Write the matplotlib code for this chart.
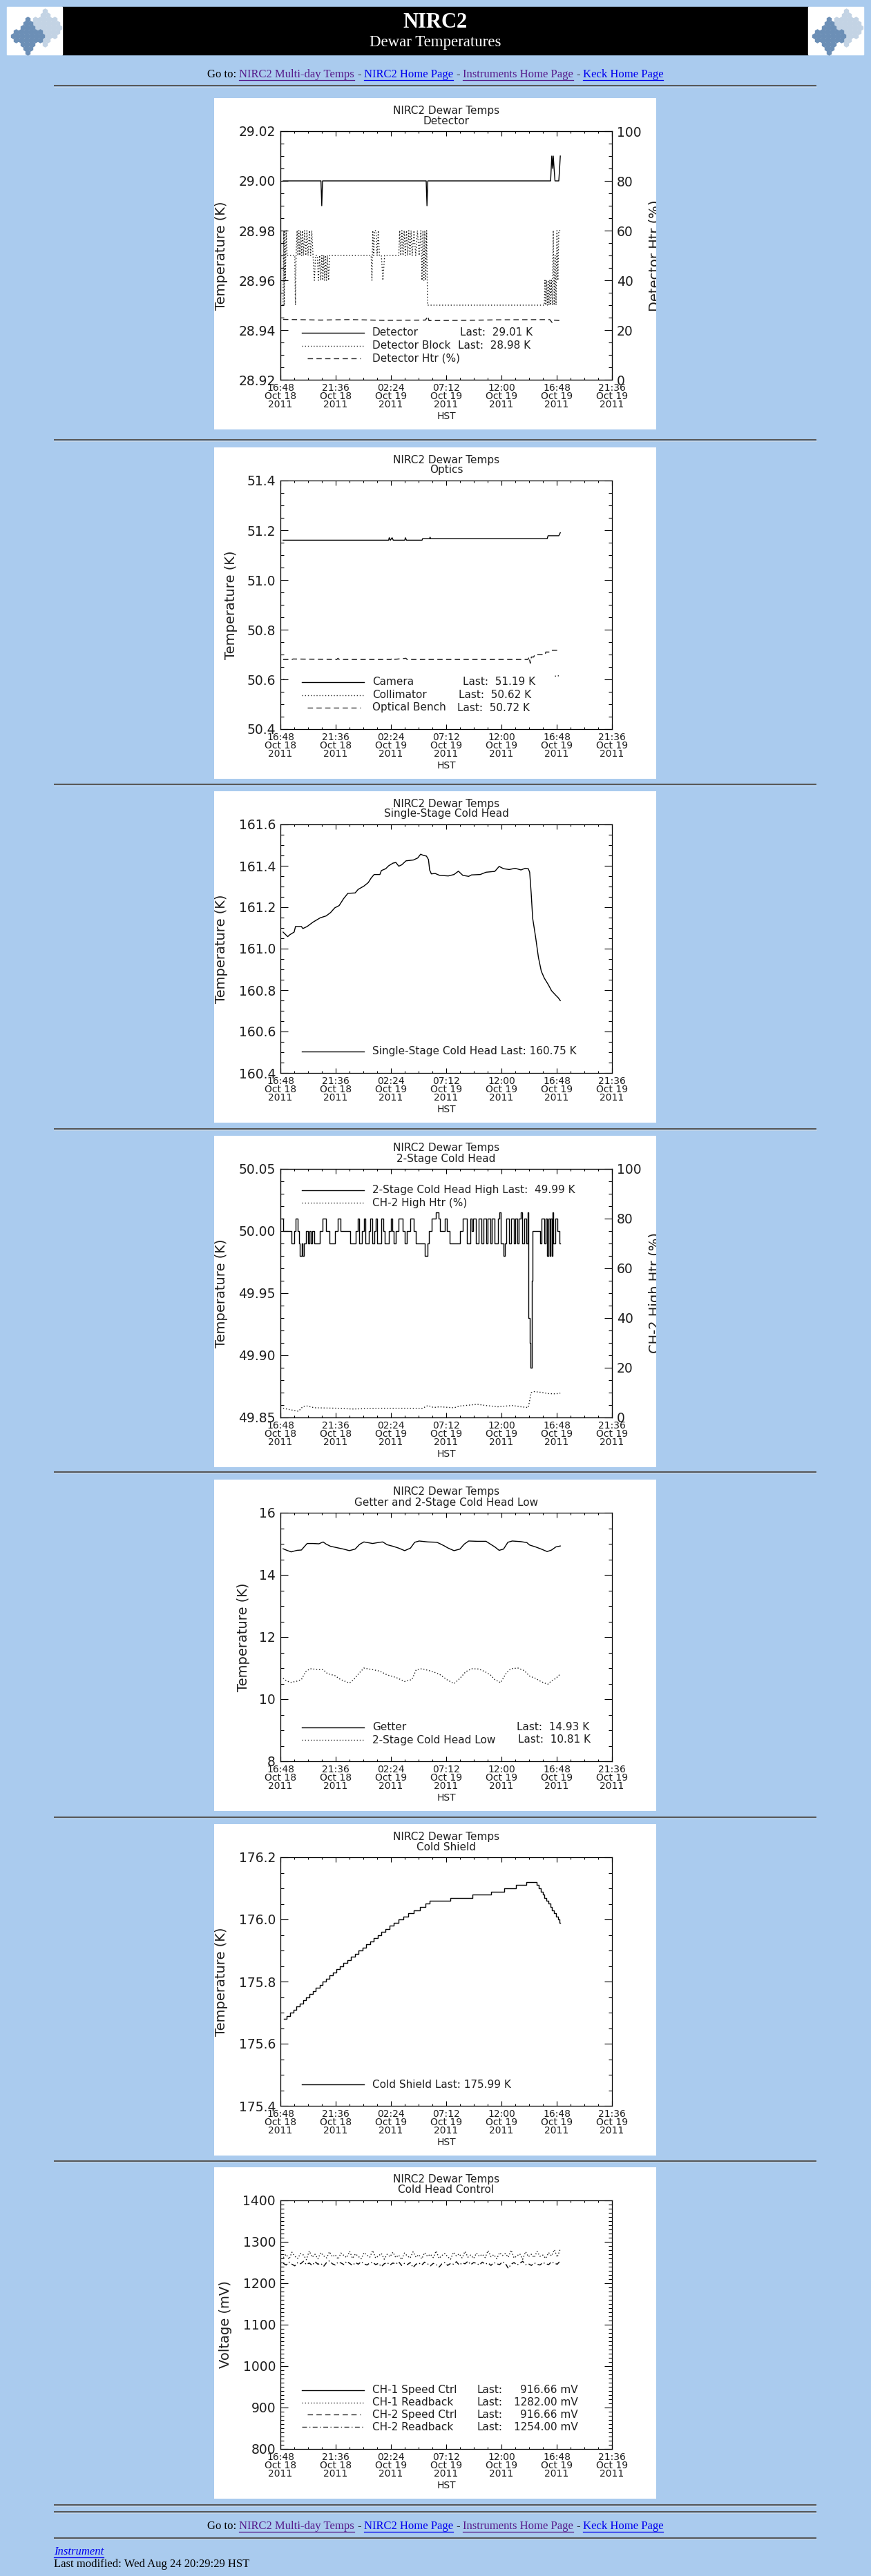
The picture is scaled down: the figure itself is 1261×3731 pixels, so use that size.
import numpy as np
import matplotlib
matplotlib.use("Agg")
import matplotlib.pyplot as plt
from matplotlib.patches import Rectangle
from matplotlib.ticker import MultipleLocator, FormatStrFormatter

W, H = 1261, 3731
BG = "#aacbee"
INK = "#1e1e1e"
SERIF = "Liberation Serif"

# x axis: hours after 16:48 Oct 18 2011 (HST)
XTICK_HOURS = [0, 4.8, 9.6, 14.4, 19.2, 24.0, 28.8]
XTICK_LABELS = ["16:48\nOct 18\n2011", "21:36\nOct 18\n2011", "02:24\nOct 19\n2011",
                "07:12\nOct 19\n2011", "12:00\nOct 19\n2011", "16:48\nOct 19\n2011",
                "21:36\nOct 19\n2011"]

GOTO_PARTS = [("Go to:", "black", False), ("NIRC2 Multi-day Temps", "#551a8b", True),
              ("-", "black", False), ("NIRC2 Home Page", "#0000ee", True),
              ("-", "black", False), ("Instruments Home Page", "#551a8b", True),
              ("-", "black", False), ("Keck Home Page", "#0000ee", True)]

## 1. Detector
det_t = [0.23, 3.52, 3.59, 3.66, 12.66, 12.73, 12.80, 23.47, 23.52, 23.57, 23.65, 23.70,
         23.77, 23.85, 24.18, 24.25, 24.31]
det_v = [29.00, 29.00, 28.99, 29.00, 29.00, 28.99, 29.00, 29.00, 29.005, 29.01, 29.005, 29.01,
         29.005, 29.00, 29.00, 29.005, 29.01]
blk_t = [0.23, 0.28, 0.33, 0.38, 0.43, 0.50, 0.58, 1.25, 1.30, 1.36, 1.45, 1.52, 1.60, 1.68,
         1.76, 1.84, 1.92, 2.00, 2.10, 2.20, 2.30, 2.40, 2.52, 2.62, 2.72, 2.83, 2.95, 3.05,
         3.20, 3.30, 3.40, 3.50, 3.60, 3.68, 3.76, 3.84, 3.92, 4.00, 4.08, 4.18, 4.28, 7.88,
         7.95, 8.02, 8.10, 8.18, 8.30, 8.40, 8.50, 8.60, 8.77, 8.90, 9.05, 10.28, 10.36, 10.45,
         10.55, 10.65, 10.75, 10.85, 10.95, 11.05, 11.15, 11.25, 11.35, 11.45, 11.60, 11.75,
         11.90, 12.05, 12.20, 12.30, 12.38, 12.46, 12.54, 12.62, 12.70, 12.78, 22.92, 22.98,
         23.05, 23.12, 23.19, 23.26, 23.33, 23.40, 23.47, 23.54, 23.62, 23.70, 23.78, 23.86,
         23.94, 24.02, 24.10, 24.18, 24.31]
blk_v = [28.95, 28.98, 28.95, 28.98, 28.96, 28.98, 28.97, 28.97, 28.95, 28.97, 28.98, 28.97,
         28.98, 28.97, 28.98, 28.97, 28.98, 28.97, 28.98, 28.97, 28.98, 28.97, 28.98, 28.97,
         28.98, 28.97, 28.96, 28.97, 28.97, 28.96, 28.97, 28.96, 28.97, 28.96, 28.97, 28.96,
         28.97, 28.96, 28.97, 28.96, 28.97, 28.97, 28.96, 28.98, 28.97, 28.98, 28.98, 28.97,
         28.98, 28.97, 28.97, 28.96, 28.97, 28.97, 28.98, 28.97, 28.98, 28.97, 28.98, 28.97,
         28.98, 28.97, 28.98, 28.97, 28.98, 28.97, 28.98, 28.97, 28.98, 28.97, 28.98, 28.96,
         28.98, 28.96, 28.98, 28.96, 28.98, 28.95, 28.95, 28.96, 28.95, 28.96, 28.95, 28.96,
         28.95, 28.96, 28.95, 28.96, 28.95, 28.98, 28.95, 28.97, 28.95, 28.98, 28.96, 28.98,
         28.98]
htr_t = [0.23, 3.5, 6.0, 9.0, 12.6, 12.8, 12.9, 16.0, 19.0, 23.4, 23.6, 23.7, 24.31]
htr_v = [24.3, 24.0, 24.2, 23.9, 24.0, 25.5, 23.8, 23.9, 24.1, 24.2, 23.0, 24.0, 23.8]

## 2. Optics
cam_t = [0.23, 9.40, 9.45, 9.55, 9.70, 9.80, 10.80, 10.85, 10.95, 12.30, 12.35, 12.95, 13.00,
         13.05, 23.17, 23.25, 24.18, 24.31]
cam_v = [51.16, 51.16, 51.17, 51.16, 51.17, 51.16, 51.16, 51.17, 51.16, 51.16, 51.166, 51.166,
         51.172, 51.166, 51.166, 51.178, 51.178, 51.19]
col_t = [0.25, 0.45, np.nan, 23.85, 24.31]
col_v = [50.60, 50.60, np.nan, 50.613, 50.615]
ob_t = [0.23, 1.0, 1.1, 4.9, 5.0, 5.1, 9.6, 9.7, 9.8, 10.9, 11.0, 21.5, 21.6, 21.7, 21.8,
        22.0, 22.1, 23.0, 23.05, 23.4, 23.5, 24.31]
ob_v = [50.68, 50.68, 50.682, 50.68, 50.685, 50.68, 50.68, 50.685, 50.68, 50.685, 50.68,
        50.68, 50.69, 50.665, 50.69, 50.69, 50.70, 50.70, 50.71, 50.71, 50.717, 50.717]

## 3. Single-stage cold head
ss_t = [0.23, 0.43, 0.63, 0.81, 1.19, 1.31, 1.82, 1.95, 2.32, 2.83, 3.46, 3.97, 4.35, 4.72,
        5.10, 5.48, 5.86, 6.49, 6.75, 7.25, 7.63, 7.88, 8.14, 8.64, 8.77, 9.15, 9.40, 9.78,
        10.03, 10.28, 10.54, 10.91, 11.55, 11.93, 12.18, 12.43, 12.68, 12.86, 12.96, 13.11,
        13.44, 13.82, 14.58, 15.08, 15.46, 15.84, 16.35, 16.60, 17.36, 17.86, 18.62, 19.00,
        19.38, 19.88, 20.39, 20.89, 21.27, 21.53, 21.65, 21.78, 21.91, 22.16, 22.41, 22.66,
        22.92, 23.29, 23.55, 23.93, 24.13, 24.31]
ss_v = [161.080, 161.069, 161.058, 161.067, 161.080, 161.107, 161.107, 161.097, 161.107,
        161.128, 161.149, 161.158, 161.174, 161.197, 161.208, 161.241, 161.267, 161.269,
        161.286, 161.302, 161.319, 161.341, 161.358, 161.358, 161.377, 161.386, 161.400,
        161.413, 161.416, 161.398, 161.405, 161.424, 161.428, 161.438, 161.456, 161.450,
        161.447, 161.430, 161.380, 161.361, 161.363, 161.354, 161.351, 161.358, 161.374,
        161.354, 161.349, 161.356, 161.358, 161.369, 161.373, 161.397, 161.386, 161.382,
        161.388, 161.380, 161.388, 161.386, 161.369, 161.269, 161.147, 161.058, 160.958,
        160.891, 160.858, 160.824, 160.797, 160.774, 160.763, 160.749]

## 4. 2-stage cold head (high)
ch_t = [0.13, 0.23, 0.93, 1.19, 1.31, 1.47, 1.59, 1.69, 1.84, 1.92, 2.05, 2.20, 2.37, 2.50,
        2.65, 2.75, 2.96, 3.41, 3.66, 3.97, 4.27, 4.72, 4.98, 5.23, 6.04, 6.54, 6.70, 6.82,
        7.05, 7.25, 7.40, 7.66, 7.81, 7.96, 8.16, 8.26, 8.41, 8.77, 8.92, 9.07, 9.42, 9.58,
        9.73, 9.83, 10.03, 10.23, 10.59, 10.79, 10.99, 11.29, 11.60, 11.75, 12.51, 12.76,
        12.91, 13.11, 13.47, 13.72, 13.87, 14.27, 14.43, 14.70, 15.34, 15.59, 15.84, 16.22,
        16.47, 16.60, 16.73, 16.98, 17.23, 17.48, 17.61, 17.86, 17.99, 18.24, 18.37, 18.62,
        18.87, 19.00, 19.13, 19.38, 19.50, 19.63, 19.88, 20.01, 20.26, 20.39, 20.59, 20.69,
        20.89, 21.02, 21.20, 21.35, 21.50, 21.55, 21.65, 21.73, 21.83, 21.91, 22.54, 22.66,
        22.92, 23.04, 23.17, 23.29, 23.37, 23.47, 23.55, 23.62, 23.72, 23.88, 24.05, 24.23,
        24.31]
ch_v = [50.01, 50.00, 49.99, 50.00, 50.01, 50.00, 49.99, 49.98, 49.99, 49.98, 49.99, 50.00,
        49.99, 50.00, 49.99, 50.00, 49.99, 50.00, 50.01, 50.00, 49.99, 50.00, 50.01, 50.00,
        49.99, 50.00, 50.01, 49.99, 50.00, 50.01, 49.99, 50.00, 50.01, 49.99, 50.00, 50.01,
        49.99, 50.01, 50.00, 49.99, 50.00, 50.01, 50.00, 49.99, 50.00, 50.01, 50.00, 49.99,
        50.00, 50.01, 50.00, 49.99, 49.98, 49.99, 50.00, 50.01, 50.015, 50.01, 50.00, 50.01,
        50.00, 49.99, 49.99, 50.00, 50.01, 49.99, 50.01, 50.00, 50.01, 49.99, 50.01, 49.99,
        50.01, 49.99, 50.01, 49.99, 50.01, 49.99, 50.01, 50.015, 49.99, 49.98, 49.99, 50.01,
        49.99, 50.01, 49.99, 50.01, 49.99, 50.01, 50.015, 49.99, 50.01, 49.99, 50.015, 49.93,
        49.91, 49.89, 49.96, 50.00, 49.99, 50.01, 49.99, 50.01, 49.98, 50.01, 49.98, 50.01,
        49.98, 50.015, 49.99, 50.01, 50.00, 49.99, 49.99]
chh_t = [0.23, 1.19, 1.57, 1.95, 2.32, 2.96, 4.98, 6.24, 8.77, 11.29, 12.30, 12.81, 13.31,
         13.82, 15.08, 15.59, 17.10, 17.86, 18.87, 20.14, 20.89, 21.53, 21.78, 22.03, 22.66,
         23.29, 23.93, 24.31]
chh_v = [3.7, 2.8, 2.5, 4.4, 4.6, 3.9, 3.7, 3.4, 3.7, 3.7, 3.6, 4.8, 4.0, 4.3, 3.9, 4.6, 5.3,
         4.8, 4.3, 4.8, 4.3, 4.0, 10.0, 10.4, 10.1, 9.6, 9.5, 9.8]

## 5. Getter and 2-stage cold head low
get_t = [0.23, 0.56, 0.93, 1.44, 1.82, 2.32, 2.83, 3.34, 3.71, 3.97, 4.35, 4.85, 5.48, 5.99,
         6.49, 6.87, 7.25, 8.01, 8.64, 8.89, 9.27, 9.78, 10.28, 10.79, 11.29, 11.67, 12.05,
         12.81, 13.57, 13.82, 14.20, 14.58, 15.08, 15.59, 15.97, 16.35, 17.10, 17.86, 18.24,
         18.62, 19.00, 19.38, 19.76, 20.14, 20.89, 21.40, 21.65, 22.16, 22.66, 23.17, 23.55,
         23.93, 24.31]
get_v = [14.84, 14.79, 14.74, 14.79, 14.80, 15.01, 15.01, 15.00, 15.06, 14.99, 14.92, 14.88,
         14.83, 14.78, 14.83, 14.98, 15.06, 15.01, 15.05, 15.06, 14.97, 14.92, 14.86, 14.78,
         14.86, 15.05, 15.09, 15.06, 15.05, 15.01, 14.94, 14.86, 14.78, 14.83, 14.99, 15.09,
         15.08, 15.08, 14.99, 14.90, 14.79, 14.83, 15.05, 15.09, 15.07, 15.04, 14.96, 14.90,
         14.83, 14.75, 14.80, 14.90, 14.93]
low_t = [0.23, 0.56, 0.93, 1.44, 1.82, 2.20, 2.58, 3.34, 3.71, 4.09, 4.72, 5.23, 5.99, 6.37,
         6.87, 7.25, 8.01, 8.64, 9.27, 10.03, 10.79, 11.42, 11.80, 12.30, 13.19, 13.82, 14.45,
         15.08, 15.59, 16.09, 16.60, 17.23, 17.74, 18.24, 18.62, 19.13, 19.63, 20.01, 20.64,
         21.17, 21.65, 22.16, 22.66, 23.22, 23.55, 23.93, 24.31]
low_v = [10.67, 10.58, 10.54, 10.58, 10.63, 10.89, 10.98, 10.95, 10.95, 10.82, 10.76, 10.63,
         10.52, 10.63, 10.85, 11.00, 10.95, 10.90, 10.78, 10.70, 10.57, 10.63, 10.95, 10.98,
         10.89, 10.80, 10.63, 10.50, 10.67, 10.88, 10.98, 10.97, 10.89, 10.78, 10.63, 10.53,
         10.85, 10.98, 11.00, 10.92, 10.74, 10.67, 10.56, 10.48, 10.59, 10.67, 10.81]

## 6. Cold shield (staircase)
cs_t = [0.30, 0.56, 0.83, 1.11, 1.39, 1.67, 1.95, 2.22, 2.50, 2.80, 3.08, 3.39, 3.66, 3.97,
        4.27, 4.57, 4.88, 5.18, 5.48, 5.81, 6.14, 6.47, 6.80, 7.13, 7.45, 7.78, 8.11, 8.44,
        8.77, 9.12, 9.47, 9.83, 10.23, 10.66, 11.12, 11.60, 12.10, 12.61, 12.94, 14.78, 16.65,
        18.29, 19.43, 20.44, 21.35, 22.28, 22.46, 22.61, 22.79, 22.94, 23.12, 23.27, 23.45,
        23.60, 23.77, 23.93, 24.10, 24.25, 24.31]
cs_v = [175.68, 175.69, 175.70, 175.71, 175.72, 175.73, 175.74, 175.75, 175.76, 175.77,
        175.78, 175.79, 175.80, 175.81, 175.82, 175.83, 175.84, 175.85, 175.86, 175.87,
        175.88, 175.89, 175.90, 175.91, 175.92, 175.93, 175.94, 175.95, 175.96, 175.97,
        175.98, 175.99, 176.00, 176.01, 176.02, 176.03, 176.04, 176.05, 176.06, 176.07,
        176.08, 176.09, 176.10, 176.11, 176.12, 176.11, 176.10, 176.09, 176.08, 176.07,
        176.06, 176.05, 176.04, 176.03, 176.02, 176.01, 176.00, 175.99, 175.99]

## 7. Cold head control (readbacks, mV)
ch1_rb = [1262, 1270, 1258, 1275, 1265, 1260, 1272, 1268, 1257, 1278, 1263, 1270, 1259, 1274,
          1266, 1261, 1276, 1264, 1269, 1258, 1273, 1267, 1262, 1277, 1260, 1271, 1265, 1259,
          1274, 1268, 1263, 1279, 1261, 1266, 1272, 1258, 1270, 1264, 1275, 1262, 1268, 1257,
          1273, 1266, 1261, 1276, 1263, 1269, 1259, 1274, 1265, 1270, 1262, 1278, 1260, 1267,
          1272, 1264, 1258, 1275, 1266, 1271, 1261, 1277, 1263, 1268, 1260, 1273, 1265, 1270,
          1262, 1279, 1264, 1269, 1259, 1274, 1267, 1272, 1263, 1280, 1261, 1266, 1271, 1258,
          1276, 1264, 1270, 1262, 1277, 1265, 1268, 1260, 1274, 1266, 1281, 1263, 1282]
ch2_rb = [1248, 1244, 1251, 1246, 1242, 1250, 1247, 1253, 1245, 1249, 1243, 1252, 1246, 1248,
          1241, 1250, 1254, 1247, 1244, 1251, 1249, 1245, 1253, 1248, 1243, 1250, 1246, 1252,
          1247, 1244, 1249, 1251, 1245, 1248, 1240, 1247, 1250, 1244, 1249, 1246, 1252, 1243,
          1248, 1245, 1250, 1238, 1246, 1249, 1244, 1251, 1247, 1242, 1248, 1245, 1239, 1247,
          1250, 1243, 1248, 1246, 1252, 1244, 1249, 1247, 1253, 1245, 1250, 1248, 1244, 1251,
          1246, 1249, 1243, 1250, 1247, 1245, 1252, 1248, 1236, 1246, 1250, 1244, 1248, 1253,
          1245, 1247, 1243, 1249, 1246, 1244, 1250, 1247, 1245, 1252, 1248, 1246, 1254]

PANEL_TOPS = [142, 648, 1146, 1645, 2143, 2642, 3139]
HR_Y = [124, 637, 1136, 1635, 2132, 2632, 3130, 3628, 3638, 3676]

STYLES = {"solid": "-", "dotted": (0, (1, 2)), "dashed": (0, (5.5, 3.6)),
          "dashdot": (0, (5, 2.5, 1, 2.5))}

fig = plt.figure(figsize=(W / 100, H / 100), dpi=100, facecolor=BG)
page = fig.add_axes([0, 0, 1, 1])
page.set_xlim(0, W)
page.set_ylim(H, 0)
page.axis("off")


def logo(x0):
    page.add_patch(Rectangle((x0, 10), 80, 69, color="white", zorder=1))
    for cx, cy, hw, hh, col in [(x0 + 55, 40, 25, 30, "#c3d3e4"), (x0 + 30, 52, 24, 27, "#6c8fb6")]:
        for j in range(-5, 6):
            for i in range(-5, 6):
                px = cx + i * 7 + (3.5 if j % 2 else 0)
                py = cy + j * 6
                if abs(px - cx) / hw + abs(py - cy) / hh <= 1.0 and 10 < py < 79:
                    page.scatter(px, py, s=38, marker="h", color=col, zorder=2, lw=0)


page.add_patch(Rectangle((90, 10), 1080, 69, color="black", zorder=1))
logo(10)
logo(1170)
page.text(630, 33, "NIRC2", color="white", fontsize=22, fontweight="bold", family=SERIF,
          ha="center", va="center", zorder=3)
page.text(630, 62, "Dewar Temperatures", color="white", fontsize=16.5, family=SERIF,
          ha="center", va="center", zorder=3)

renderer = fig.canvas.get_renderer()


def goto_line(y):
    arts = []
    for s, c, link in GOTO_PARTS:
        t = page.text(0, y, s, color=c, fontsize=12, family=SERIF, ha="left", va="center")
        arts.append((t, link))
    widths = [t.get_window_extent(renderer).width for t, _ in arts]
    gap = 4.2
    x = 630 - (sum(widths) + gap * (len(widths) - 1)) / 2
    for (t, link), w in zip(arts, widths):
        t.set_x(x)
        if link:
            page.plot([x, x + w], [y + 8, y + 8], color=t.get_color(), lw=0.9)
        x += w + gap


goto_line(108)
goto_line(3659)
for y in HR_Y:
    page.plot([78, 1182], [y, y], color="#585858", lw=1.5, solid_capstyle="butt")
    page.plot([78, 1182], [y + 1.5, y + 1.5], color="#c9d9ea", lw=0.6)

t = page.text(78, 3696, "Instrument", color="#0000ee", fontsize=12, family=SERIF,
              style="italic", ha="left", va="center")
w = t.get_window_extent(renderer).width
page.plot([78, 78 + w], [3704, 3704], color="#0000ee", lw=0.9)
page.text(78, 3714, "Last modified: Wed Aug 24 20:29:29 HST", color="black", fontsize=12,
          family=SERIF, ha="left", va="center")


def style_y(a, lim, major, minor, fmt):
    a.set_ylim(*lim)
    a.yaxis.set_major_locator(MultipleLocator(major))
    a.yaxis.set_minor_locator(MultipleLocator(minor))
    a.yaxis.set_major_formatter(FormatStrFormatter(fmt))
    a.tick_params(axis="y", which="both", direction="in", width=0.8, color="black",
                  labelsize=13.5, labelcolor=INK, pad=5)
    a.tick_params(axis="y", which="major", length=8)
    a.tick_params(axis="y", which="minor", length=3.6)


def make_panel(top, subtitle, lim, major, minor, fmt, ylabel, ylab_x):
    bg = fig.add_axes([310 / W, 1 - (top + 480) / H, 640 / W, 480 / H])
    bg.set_xlim(0, 640)
    bg.set_ylim(480, 0)
    bg.axis("off")
    bg.add_patch(Rectangle((0, 0), 640, 480, color="white", zorder=0))
    bg.text(336, 18, "NIRC2 Dewar Temps", fontsize=11, color=INK, ha="center", va="center")
    bg.text(336, 33, subtitle, fontsize=11, color=INK, ha="center", va="center")
    bg.text(336, 461, "HST", fontsize=10, color=INK, ha="center", va="center")
    bg.text(ylab_x, 228, ylabel, fontsize=14, color=INK, rotation=90, ha="center", va="center")

    ax = fig.add_axes([406 / W, 1 - (top + 408) / H, 480 / W, 360 / H])
    ax.patch.set_alpha(0)
    for sp in ax.spines.values():
        sp.set_linewidth(0.9)
    ax.set_xlim(0, 28.8)
    ax.set_xticks(XTICK_HOURS, XTICK_LABELS)
    ax.xaxis.set_minor_locator(MultipleLocator(1.2))
    ax.tick_params(axis="x", which="both", direction="in", top=True, width=0.8,
                   labelsize=10, labelcolor=INK, pad=3.5)
    ax.tick_params(axis="x", which="major", length=5)
    ax.tick_params(axis="x", which="minor", length=2.2)
    for lab in ax.get_xticklabels():
        lab.set_linespacing(0.84)
    style_y(ax, lim, major, minor, fmt)
    ax.tick_params(axis="y", which="both", right=True)
    return bg, ax


def add_right(ax, bg, label):
    ax.tick_params(axis="y", which="both", right=False)
    ax2 = ax.twinx()
    style_y(ax2, (0, 100), 20, 5, "%d")
    ax2.tick_params(axis="y", which="both", left=False, right=True)
    ax2.tick_params(axis="x", which="both", top=False, bottom=False, labelbottom=False)
    bg.text(638, 228, label, fontsize=14, color=INK, rotation=90, ha="center", va="center",
            clip_on=True)
    return ax2


def legend(bg, rows, y_last, dy=18.5):
    y0 = y_last - dy * (len(rows) - 1)
    for k, (style, pieces) in enumerate(rows):
        y = y0 + k * dy
        x1 = 127 if style != "dashed" else 135
        x2 = 217 if style != "dashed" else 212
        bg.plot([x1, x2], [y, y], color="black" if style == "solid" else "#333333",
                lw=1.0, ls=STYLES[style])
        for x, s, ha in pieces:
            bg.text(x, y, s, fontsize=11, color=INK, ha=ha, va="center")


def draw(ax, t, v, style, **kw):
    col = "black" if style in ("solid", "dashdot") else "#161616"
    ax.plot(t, v, color=col, lw=1.0, ls=STYLES[style], **kw)


# 1. Detector
bg, ax = make_panel(PANEL_TOPS[0], "Detector", (28.92, 29.02), 0.02, 0.005, "%.2f",
                    "Temperature (K)", 11)
ax2 = add_right(ax, bg, "Detector Htr (%)")
draw(ax, det_t, det_v, "solid")
draw(ax, blk_t, blk_v, "dotted")
draw(ax2, htr_t, htr_v, "dashed")
legend(bg, [("solid", [(229, "Detector", "left"), (356, "Last:  29.01 K", "left")]),
            ("dotted", [(229, "Detector Block", "left"), (353, "Last:  28.98 K", "left")]),
            ("dashed", [(229, "Detector Htr (%)", "left")])], 377)

# 2. Optics
bg, ax = make_panel(PANEL_TOPS[1], "Optics", (50.4, 51.4), 0.2, 0.05, "%.1f",
                    "Temperature (K)", 24)
draw(ax, cam_t, cam_v, "solid")
draw(ax, col_t, col_v, "dotted")
draw(ax, ob_t, ob_v, "dashed")
legend(bg, [("solid", [(229, "Camera", "left"), (360, "Last:  51.19 K", "left")]),
            ("dotted", [(229, "Collimator", "left"), (354, "Last:  50.62 K", "left")]),
            ("dashed", [(229, "Optical Bench", "left"), (352, "Last:  50.72 K", "left")])], 377)

# 3. Single-stage cold head
bg, ax = make_panel(PANEL_TOPS[2], "Single-Stage Cold Head", (160.4, 161.6), 0.2, 0.05, "%.1f",
                    "Temperature (K)", 11)
draw(ax, ss_t, ss_v, "solid")
legend(bg, [("solid", [(229, "Single-Stage Cold Head Last: 160.75 K", "left")])], 377)

# 4. 2-stage cold head
bg, ax = make_panel(PANEL_TOPS[3], "2-Stage Cold Head", (49.85, 50.05), 0.05, 0.01, "%.2f",
                    "Temperature (K)", 11)
ax2 = add_right(ax, bg, "CH-2 High Htr (%)")
draw(ax, ch_t, ch_v, "solid", drawstyle="steps-post")
draw(ax2, chh_t, chh_v, "dotted")
legend(bg, [("solid", [(229, "2-Stage Cold Head High Last:  49.99 K", "left")]),
            ("dotted", [(229, "CH-2 High Htr (%)", "left")])], 97)

# 5. Getter and 2-stage cold head low
bg, ax = make_panel(PANEL_TOPS[4], "Getter and 2-Stage Cold Head Low", (8, 16), 2, 0.5, "%d",
                    "Temperature (K)", 43)
draw(ax, get_t, get_v, "solid")
draw(ax, low_t, low_v, "dotted")
legend(bg, [("solid", [(229, "Getter", "left"), (438, "Last:  14.93 K", "left")]),
            ("dotted", [(229, "2-Stage Cold Head Low", "left"), (440, "Last:  10.81 K", "left")])],
       377)

# 6. Cold shield
bg, ax = make_panel(PANEL_TOPS[5], "Cold Shield", (175.4, 176.2), 0.2, 0.05, "%.1f",
                    "Temperature (K)", 11)
draw(ax, cs_t, cs_v, "solid", drawstyle="steps-post")
legend(bg, [("solid", [(229, "Cold Shield Last: 175.99 K", "left")])], 377)

# 7. Cold head control
bg, ax = make_panel(PANEL_TOPS[6], "Cold Head Control", (800, 1400), 100, 10, "%d",
                    "Voltage (mV)", 17)
draw(ax, np.linspace(0.25, 24.3, len(ch1_rb)), ch1_rb, "dotted")
draw(ax, np.linspace(0.25, 24.3, len(ch2_rb)), ch2_rb, "dashdot")
legend(bg, [("solid", [(229, "CH-1 Speed Ctrl", "left"), (380, "Last:", "left"),
                       (527, "916.66 mV", "right")]),
            ("dotted", [(229, "CH-1 Readback", "left"), (380, "Last:", "left"),
                        (527, "1282.00 mV", "right")]),
            ("dashed", [(229, "CH-2 Speed Ctrl", "left"), (380, "Last:", "left"),
                        (527, "916.66 mV", "right")]),
            ("dashdot", [(229, "CH-2 Readback", "left"), (380, "Last:", "left"),
                         (527, "1254.00 mV", "right")])], 376, dy=17.7)

fig.savefig("out.png", dpi=100, facecolor=BG)
